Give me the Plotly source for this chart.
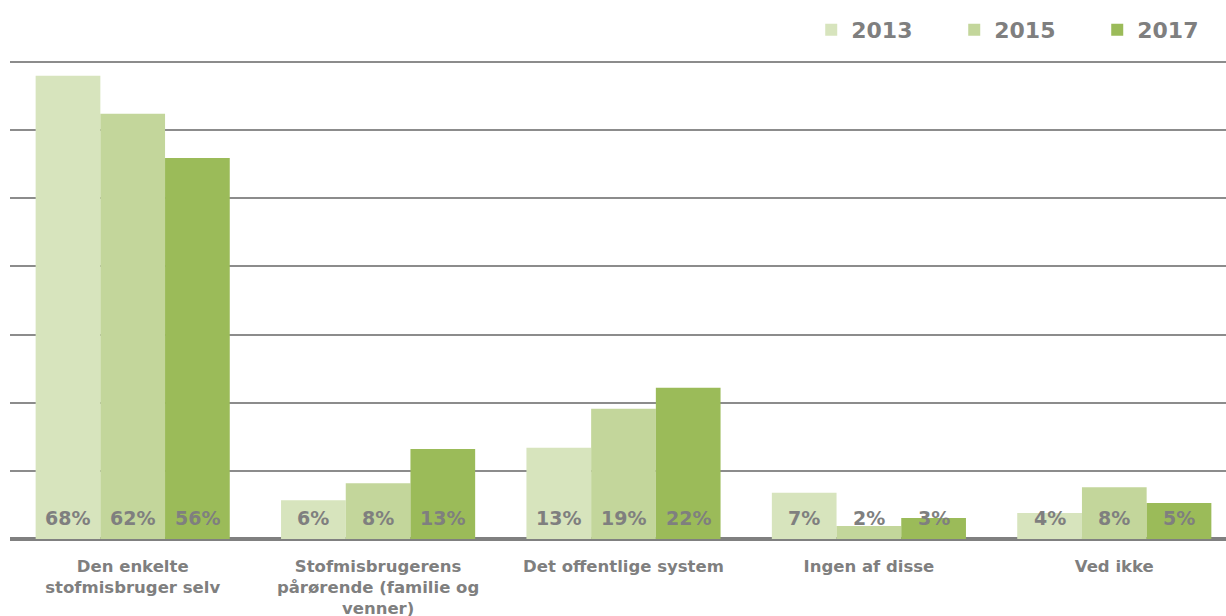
import plotly.graph_objects as go

categories = [
    "Den enkelte<br>stofmisbruger selv",
    "Stofmisbrugerens<br>pårørende (familie og<br>venner)",
    "Det offentlige system",
    "Ingen af disse",
    "Ved ikke",
]
years = ["2013", "2015", "2017"]
values_2013 = [68, 5.7, 13.4, 6.8, 3.8]
values_2015 = [62.4, 8.2, 19.1, 1.9, 7.6]
values_2017 = [55.9, 13.2, 22.2, 3.1, 5.3]
labels_2013 = ["68%", "6%", "13%", "7%", "4%"]
labels_2015 = ["62%", "8%", "19%", "2%", "8%"]
labels_2017 = ["56%", "13%", "22%", "3%", "5%"]
colors = ["#D7E4BD", "#C3D69B", "#9BBB59"]

series = [values_2013, values_2015, values_2017]
labels = [labels_2013, labels_2015, labels_2017]

W, H = 1237, 616
ML, MR, MT, MB = 10, 0, 61, 77
BARGAP = 0.209
plot_w = W - ML - MR
bar_px = plot_w / len(categories) * (1 - BARGAP) / len(years)

fig = go.Figure()
for yr, vals, col in zip(years, series, colors):
    fig.add_trace(go.Bar(
        name=yr, x=categories, y=vals,
        marker=dict(color=col, line=dict(width=0)),
        hoverinfo="skip",
    ))

annotations = []
for i, lab in enumerate(labels):
    for cat, t in zip(categories, lab):
        annotations.append(dict(
            x=cat, y=0, xref="x", yref="y", text=t, showarrow=False,
            xshift=(i - 1) * bar_px, yshift=21, yanchor="middle",
            font=dict(family="DejaVu Sans", size=19, color="#7F7F7F", weight="bold"),
        ))

fig.update_layout(
    width=W, height=H,
    barmode="group", bargap=BARGAP, bargroupgap=0,
    plot_bgcolor="white", paper_bgcolor="white",
    margin=dict(l=ML, r=MR, t=MT, b=MB, autoexpand=False),
    font=dict(family="DejaVu Sans", color="#7F7F7F"),
    legend=dict(
        orientation="h", x=0.653, xanchor="left",
        yref="container", y=1 - 30 / H, yanchor="middle",
        font=dict(size=22, color="#7F7F7F", weight="bold"),
        traceorder="normal", entrywidthmode="pixels", entrywidth=98,
    ),
    showlegend=True,
    annotations=annotations,
)
fig.update_xaxes(
    showgrid=False, showline=False, ticks="", ticklabelstandoff=15,
    tickfont=dict(family="DejaVu Sans", size=16.5, color="#7F7F7F", weight="bold"),
)
fig.update_yaxes(
    range=[0, 70.15], dtick=10, showticklabels=False,
    showgrid=True, gridcolor="#8C8C8C", gridwidth=2,
    zeroline=True, zerolinecolor="#808080", zerolinewidth=4,
)

fig.write_html(
    "out.html",
    config={"displayModeBar": False, "staticPlot": True},
    post_script="document.body.style.margin='0px';document.body.style.overflow='hidden';",
)
